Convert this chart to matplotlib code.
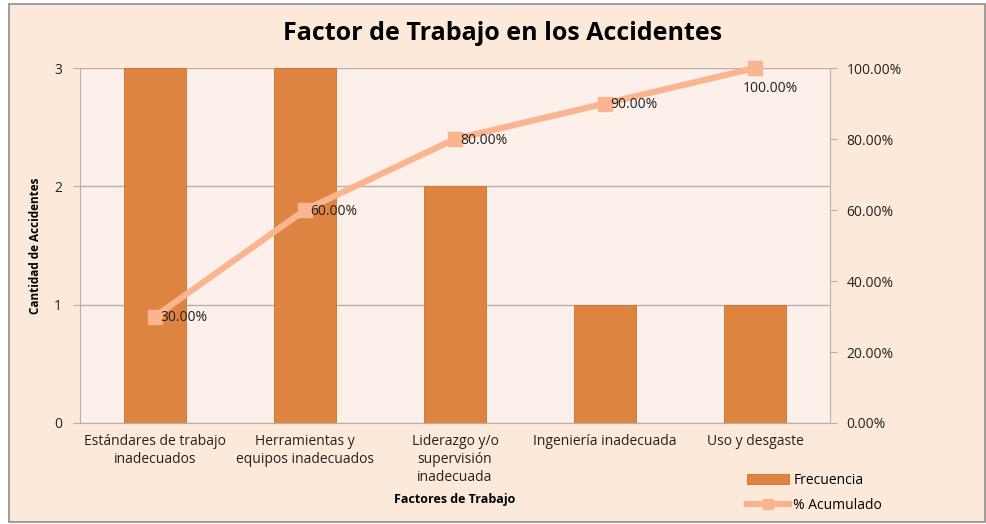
import numpy as np
import matplotlib
matplotlib.use("Agg")
from matplotlib import pyplot as plt
from matplotlib.patches import Rectangle
from matplotlib.ticker import FuncFormatter

CATEGORIES = ["Estándares de trabajo\ninadecuados",
              "Herramientas y\nequipos inadecuados",
              "Liderazgo y/o\nsupervisión\ninadecuada",
              "Ingeniería inadecuada",
              "Uso y desgaste"]
FRECUENCIA = [3, 3, 2, 1, 1]
ACUMULADO = [30.0, 60.0, 80.0, 90.0, 100.0]

BAR_COLOR = "#DE8441"
LINE_COLOR = "#F9B58F"
CHART_BG = "#FDE9D9"
PLOT_BG = "#FDEFEA"
GRID = "#B8B0AC"

plt.rcParams["font.family"] = ["Open Sans", "DejaVu Sans"]

fig = plt.figure(figsize=(9.87, 5.24), dpi=100)
fig.patch.set_facecolor("white")
fig.patches.append(Rectangle((9 / 987, 2 / 524), 976 / 987, 518 / 524,
                             transform=fig.transFigure, facecolor=CHART_BG,
                             edgecolor="#8C8C8C", linewidth=1.2, zorder=-5))

ax = fig.add_axes([80 / 987, 1 - 423 / 524, 750 / 987, 355 / 524])
ax.set_facecolor(PLOT_BG)
x = np.arange(len(CATEGORIES))
ax.bar(x, FRECUENCIA, width=0.41, color=BAR_COLOR, edgecolor="#C9722F",
       linewidth=0.6, label="Frecuencia", zorder=2)
ax.set_xlim(-0.5, len(CATEGORIES) - 0.5)
ax.set_ylim(0, 3)
ax.set_yticks([0, 1, 2, 3])
ax.yaxis.grid(True, color=GRID, linewidth=1, zorder=0)
ax.set_axisbelow(True)
for s in ["top", "right"]:
    ax.spines[s].set_visible(False)
ax.spines["left"].set_color(GRID)
ax.spines["bottom"].set_color(GRID)
ax.tick_params(axis="y", colors=GRID, labelcolor="#222222", labelsize=10,
               length=5, pad=8)
ax.tick_params(axis="x", length=0, labelsize=10, labelcolor="#222222", pad=8)
ax.set_xticks(x)
ax.set_xticklabels(CATEGORIES, linespacing=1.25)
ax.set_ylabel("Cantidad de Accidentes", fontsize=8.5, fontweight="bold")
ax.yaxis.set_label_coords(-38 / 750, 0.5)
ax.set_xlabel("Factores de Trabajo", fontsize=9, fontweight="bold", labelpad=6)

ax2 = ax.twinx()
ax2.plot(x, ACUMULADO, color=LINE_COLOR, linewidth=4.5, marker="s",
         markersize=10, label="% Acumulado", zorder=3, clip_on=False)
ax2.set_ylim(0, 100)
ax2.set_yticks(np.arange(0, 101, 20))
ax2.yaxis.set_major_formatter(FuncFormatter(lambda v, p: f"{v:.2f}%"))
for s in ["top", "left", "bottom"]:
    ax2.spines[s].set_visible(False)
ax2.spines["right"].set_color(GRID)
ax2.tick_params(axis="y", colors=GRID, labelcolor="#222222", labelsize=10,
                length=5, pad=7)

for i, v in enumerate(ACUMULADO):
    if i == len(ACUMULADO) - 1:
        ax2.annotate(f"{v:.2f}%", (x[i], v), xytext=(-9, -15),
                     textcoords="offset points", ha="left", va="center",
                     fontsize=10, color="#222222")
    else:
        ax2.annotate(f"{v:.2f}%", (x[i], v), xytext=(4, -1),
                     textcoords="offset points", ha="left", va="center",
                     fontsize=10, color="#222222")

fig.text(503 / 987, 1 - 33 / 524, "Factor de Trabajo en los Accidentes",
         ha="center", va="center", fontsize=18, fontweight="bold")

h1, l1 = ax.get_legend_handles_labels()
h2, l2 = ax2.get_legend_handles_labels()
fig.legend(h1 + h2, l1 + l2, loc="center left",
           bbox_to_anchor=(735 / 987, 1 - 493 / 524), frameon=False,
           fontsize=10, handlelength=3, labelspacing=0.7, handletextpad=0.3,
           markerscale=0.7)

fig.savefig("out.png", dpi=100, facecolor=fig.get_facecolor())
